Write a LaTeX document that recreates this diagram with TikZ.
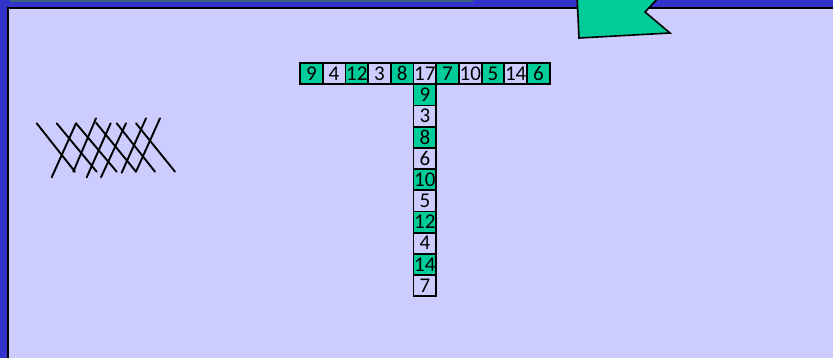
\documentclass[tikz,border=0pt]{standalone}
\usepackage{fontspec}
\setmainfont{Carlito}
\usetikzlibrary{positioning}
\definecolor{frameblue}{HTML}{3333CC}
\definecolor{paleblue}{HTML}{CCCCFF}
\definecolor{cellgreen}{HTML}{00CC99}
\definecolor{stripblue}{HTML}{3A6080}
\tikzset{
  cell/.style={draw=black, line width=1.8pt, minimum width=22.7pt, minimum height=21.2pt,
    inner sep=0pt, outer sep=0pt, font=\fontsize{21}{21}\selectfont},
  cellg/.style={cell, fill=cellgreen},
  cellw/.style={cell, fill=paleblue},
  hatch/.style={line width=1.9pt, line cap=round}
}

\begin{document}
\begin{tikzpicture}[x=1pt, y=-1pt]
    \useasboundingbox (0,0) rectangle (833,357);
    % background
    \fill[frameblue] (-2,-2) rectangle (835,359);
    \fill[stripblue] (10,-1) rectangle (473,2);
    \draw[black, line width=1.8pt, fill=paleblue] (8,8) rectangle (845,370);
    \draw[black, line width=1.6pt, fill=cellgreen] (577,-5) -- (579,38) -- (670,33) -- (645,12) -- (661,-5) -- cycle;

    % row
    \node[cellg] (r1) at (311.35,73.6) {9};
    \node[cellw, right=0pt of r1] (r2) {4};
    \node[cellg, right=0pt of r2] (r3) {12};
    \node[cellw, right=0pt of r3] (r4) {3};
    \node[cellg, right=0pt of r4] (r5) {8};
    \node[cellw, right=0pt of r5] (r6) {17};
    \node[cellg, right=0pt of r6] (r7) {7};
    \node[cellw, right=0pt of r7] (r8) {10};
    \node[cellg, right=0pt of r8] (r9) {5};
    \node[cellw, right=0pt of r9] (r10) {14};
    \node[cellg, right=0pt of r10] (r11) {6};

    % column
    \node[cellg, below=0pt of r6] (c1) {9};
    \node[cellw, below=0pt of c1] (c2) {3};
    \node[cellg, below=0pt of c2] (c3) {8};
    \node[cellw, below=0pt of c3] (c4) {6};
    \node[cellg, below=0pt of c4] (c5) {10};
    \node[cellw, below=0pt of c5] (c6) {5};
    \node[cellg, below=0pt of c6] (c7) {12};
    \node[cellw, below=0pt of c7] (c8) {4};
    \node[cellg, below=0pt of c8] (c9) {14};
    \node[cellw, below=0pt of c9] (c10) {7};

    % hatching
    \draw[hatch] (36.7,123.3) -- (75,171.7)   (56.7,123.3) -- (96.7,171.7)
                 (76,123.3) -- (116.7,171.7)  (96,122.7) -- (136,171.7)
                 (116.7,123.3) -- (155,171.7) (136,123.3) -- (175,171.7);
    \draw[hatch] (51.7,177.3) -- (76,123.3)   (73.3,171.7) -- (96,118.3)
                 (86.7,177.3) -- (110.7,123.3) (101,177.3) -- (126,123.3)
                 (121.7,172.7) -- (146,118.3) (136,171.7) -- (160,118.3);
\end{tikzpicture}
\end{document}
